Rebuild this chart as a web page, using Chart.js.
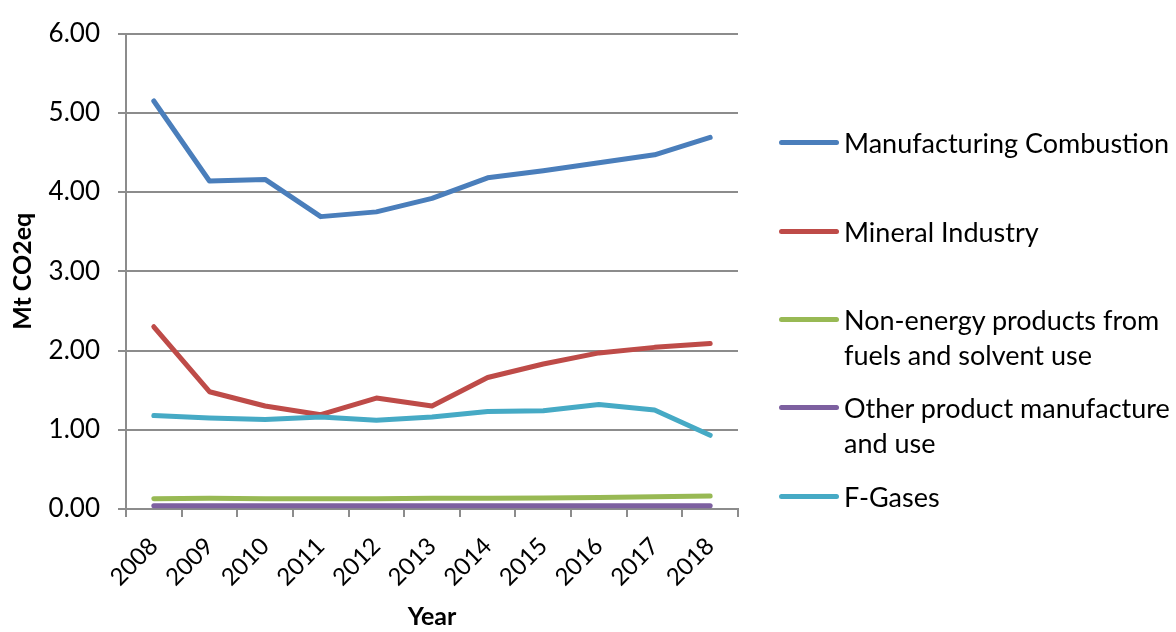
<!DOCTYPE html>
<html>
<head>
<meta charset="utf-8">
<script src="https://cdn.jsdelivr.net/npm/chart.js@4/dist/chart.umd.min.js"></script>
<style>
  html, body { margin:0; padding:0; background:#fff; }
  #wrap { position:relative; width:1176px; height:632px; }
  #c { position:absolute; left:0; top:0; }
  #legend { position:absolute; left:779px; top:0; font-family:Lato, "Open Sans", sans-serif; font-size:27px; color:#000; }
  .item { position:absolute; left:0; white-space:nowrap; }
  .swatch { position:absolute; left:0; width:60px; height:5px; border-radius:3px; }
  .txt { position:absolute; left:65px; line-height:35px; }
</style>
</head>
<body>
<div id="wrap">
  <canvas id="c" width="1176" height="632"></canvas>
  <div id="legend"></div>
</div>
<script>
const years = ['2008','2009','2010','2011','2012','2013','2014','2015','2016','2017','2018'];
const manufacturingCombustion = [5.15, 4.14, 4.16, 3.69, 3.75, 3.92, 4.18, 4.27, 4.37, 4.47, 4.69];
const mineralIndustry = [2.30, 1.48, 1.30, 1.19, 1.40, 1.30, 1.66, 1.83, 1.97, 2.04, 2.09];
const nonEnergyProducts = [0.13, 0.135, 0.13, 0.13, 0.13, 0.135, 0.135, 0.14, 0.145, 0.155, 0.165];
const otherProduct = [0.04, 0.04, 0.04, 0.04, 0.04, 0.04, 0.04, 0.04, 0.04, 0.04, 0.04];
const fGases = [1.18, 1.15, 1.13, 1.16, 1.12, 1.16, 1.23, 1.24, 1.32, 1.25, 0.93];
const seriesNames = ['Manufacturing Combustion', 'Mineral Industry', 'Non-energy products from fuels and solvent use', 'Other product manufacture and use', 'F-Gases'];
const legendLines = [['Manufacturing Combustion'], ['Mineral Industry'], ['Non-energy products from', 'fuels and solvent use'], ['Other product manufacture', 'and use'], ['F-Gases']];
const colors = ['#4A7EBB', '#BE4B48', '#98B954', '#7D60A0', '#46AAC5'];
const yTicks = [0, 1, 2, 3, 4, 5, 6];

const allSeries = [manufacturingCombustion, mineralIndustry, nonEnergyProducts, otherProduct, fGases];
const drawOrder = [3, 2, 4, 1, 0];

const datasets = allSeries.map((d, i) => ({
  label: seriesNames[i],
  data: d,
  borderColor: colors[i],
  backgroundColor: colors[i],
  borderWidth: 5,
  pointRadius: 0,
  tension: 0,
  borderCapStyle: 'round',
  borderJoinStyle: 'round',
  order: drawOrder.indexOf(i)
}));

const gridColor = '#8c8c8c';
const font = 'Lato, "Open Sans", sans-serif';

new Chart(document.getElementById('c'), {
  type: 'line',
  data: { labels: years, datasets },
  options: {
    responsive: false,
    animation: false,
    layout: { padding: { left: 0, right: 438, top: 29, bottom: 0 } },
    plugins: { legend: { display: false }, tooltip: { enabled: false } },
    scales: {
      x: {
        offset: true,
        grid: { offset: true, drawOnChartArea: false, drawTicks: true, tickLength: 8, color: gridColor, lineWidth: 2 },
        border: { display: true, color: gridColor, width: 2 },
        ticks: { color: '#000', font: { family: font, size: 24 }, minRotation: 45, maxRotation: 45, padding: 15, autoSkip: false },
        title: { display: true, text: 'Year', color: '#000', font: { family: font, size: 25, weight: 'bold' }, padding: { top: -4, bottom: 0 } },
        afterFit: s => { s.height = 632 - 509; }
      },
      y: {
        min: 0, max: 6,
        afterBuildTicks: s => { s.ticks = yTicks.map(v => ({ value: v })); },
        grid: { color: gridColor, lineWidth: 2, tickLength: 8, drawTicks: true },
        border: { display: true, color: gridColor, width: 2 },
        ticks: { color: '#000', font: { family: font, size: 26 }, padding: 18, callback: v => Number(v).toFixed(2) },
        title: { display: true, text: 'Mt CO2eq', color: '#000', font: { family: font, size: 25, weight: 'bold' }, padding: { top: 8, bottom: 0 } },
        afterFit: s => { s.width = 126; }
      }
    }
  }
});

const legend = document.getElementById('legend');
const ys = [142, 231, 319, 407, 496];
legendLines.forEach((lines, i) => {
  const item = document.createElement('div');
  item.className = 'item';
  item.style.top = ys[i] + 'px';
  const sw = document.createElement('div');
  sw.className = 'swatch';
  sw.style.background = colors[i];
  sw.style.top = '-2.5px';
  const t = document.createElement('div');
  t.className = 'txt';
  t.style.top = '-17.5px';
  t.innerHTML = lines.join('<br>');
  item.appendChild(sw);
  item.appendChild(t);
  legend.appendChild(item);
});
</script>
</body>
</html>
